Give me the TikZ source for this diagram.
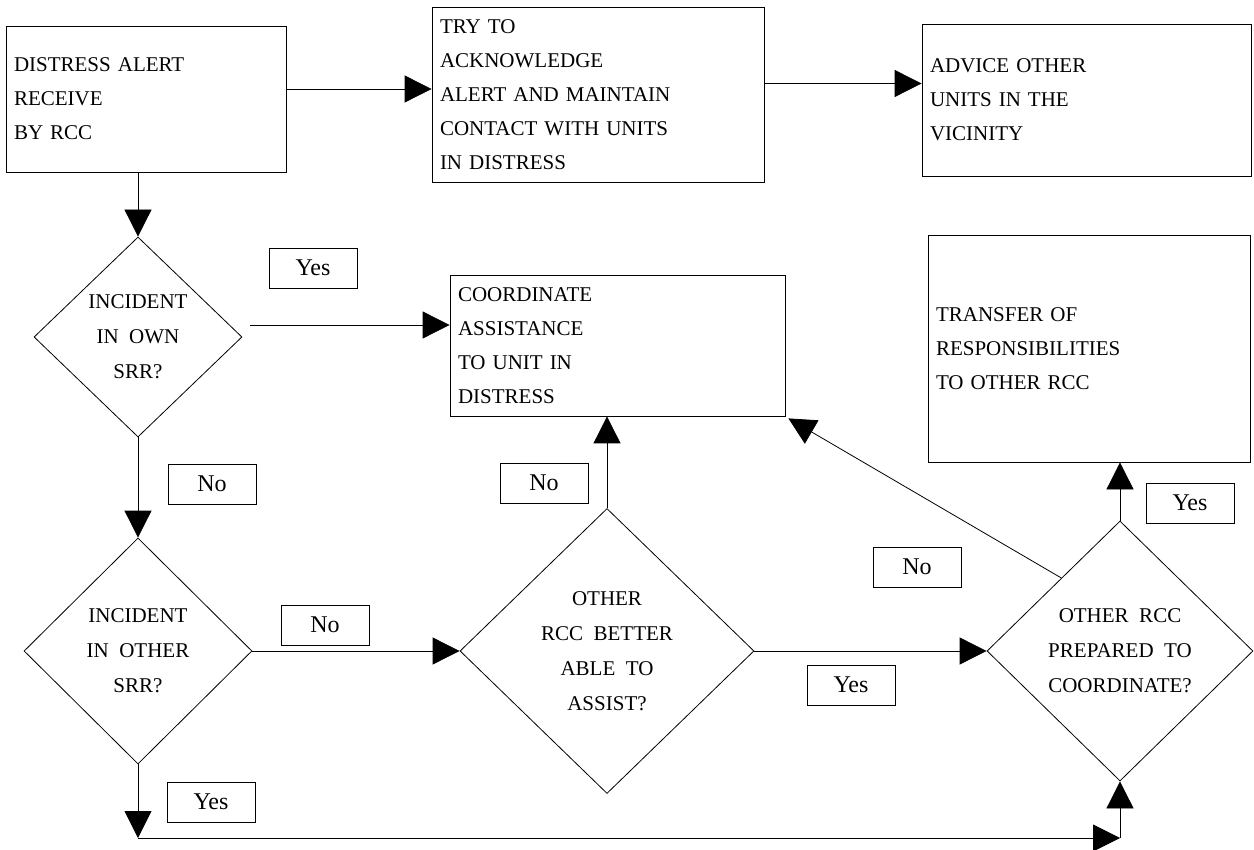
\documentclass[tikz,border=0pt]{standalone}
\usepackage{fontspec}
\setmainfont{Liberation Serif}[WordSpace=2]
\usetikzlibrary{arrows.meta,shapes.geometric,calc}

\tikzset{
  box/.style={draw, rectangle, line width=0.8pt, inner xsep=8pt, inner ysep=0pt, align=left, font=\fontsize{21}{34}\selectfont},
  decision/.style={draw, diamond, line width=0.8pt, inner sep=0pt, align=center, font=\fontsize{21}{35}\selectfont},
  tag/.style={draw, rectangle, line width=0.6pt, minimum width=88pt, minimum height=40pt, inner sep=0pt, font=\fontsize{24}{28}\selectfont},
  flow/.style={line width=0.8pt, -{Triangle[length=27pt,width=27pt]}}
}

\begin{document}
\begin{tikzpicture}[x=1pt, y=-1pt]
	\useasboundingbox (0,0) rectangle (1254,850);
	% boxes
	\node[box, text width=264pt, minimum height=146pt] (alert) at (146,99) {DISTRESS ALERT\\RECEIVE\\BY RCC};
	\node[box, text width=316pt, minimum height=175pt] (ack) at (598,94.5) {TRY TO\\ACKNOWLEDGE\\ALERT AND MAINTAIN\\CONTACT WITH UNITS\\IN DISTRESS};
	\node[box, text width=313pt, minimum height=152pt] (advice) at (1086.5,100) {ADVICE OTHER\\UNITS IN THE\\VICINITY};
	\node[box, text width=319pt, minimum height=141pt] (coord) at (617.5,345.5) {COORDINATE\\ASSISTANCE\\TO UNIT IN\\DISTRESS};
	\node[box, text width=306pt, minimum height=227pt] (transfer) at (1089,348.5) {TRANSFER OF\\RESPONSIBILITIES\\TO OTHER RCC};
	% decisions
	\node[decision, minimum width=208pt, minimum height=200pt] (own) at (138,337) {INCIDENT\\IN OWN\\SRR?};
	\node[decision, minimum width=228pt, minimum height=226pt] (other) at (138,651) {INCIDENT\\IN OTHER\\SRR?};
	\node[decision, minimum width=294pt, minimum height=285pt] (better) at (607,651) {OTHER\\RCC BETTER\\ABLE TO\\ASSIST?};
	\node[decision, minimum width=266pt, minimum height=260pt] (prepared) at (1120,651) {OTHER RCC\\PREPARED TO\\COORDINATE?};
	% answers
	\node[tag] (yes1) at (313,268) {Yes};
	\node[tag] (no1) at (212,484) {No};
	\node[tag] (no2) at (325,625) {No};
	\node[tag] (yes2) at (211,802) {Yes};
	\node[tag] (no3) at (544,483) {No};
	\node[tag] (yes3) at (851,685) {Yes};
	\node[tag] (no4) at (917,567) {No};
	\node[tag] (yes4) at (1190,503) {Yes};
	% arrows
	\coordinate (s1) at ([yshift=10pt]alert.east);
	\draw[flow] (s1) -- (s1 -| ack.west);
	\coordinate (s2) at ([yshift=11pt]ack.east);
	\draw[flow] (s2) -- (s2 -| advice.west);
	\draw[flow] (own.north |- alert.south) -- (own.north);
	\coordinate (s3) at ($(own.east)+(8,-12)$);
	\draw[flow] (s3) -- (s3 -| coord.west);
	\draw[flow] (own.south) -- (other.north);
	\draw[flow] (other.east) -- (better.west);
	\draw[flow] (better.north) -- (better.north |- coord.south);
	\draw[flow] (better.east) -- (prepared.west);
	\draw[flow] (prepared.north) -- (prepared.north |- transfer.south);
	\coordinate (s4) at ($(prepared.west)!0.56!(prepared.north)$);
	\coordinate (s5) at ([xshift=3pt,yshift=-2pt]coord.south east);
	\draw[flow] (s4) -- (s5);
	% route along the bottom
	\coordinate (floor) at (0,838);
	\coordinate (low) at (other.south |- floor);
	\coordinate (corner) at (prepared.south |- floor);
	\draw[flow] (other.south) -- (low);
	\draw[flow] (low) -- (corner);
	\draw[flow] (corner) -- (prepared.south);
\end{tikzpicture}
\end{document}
